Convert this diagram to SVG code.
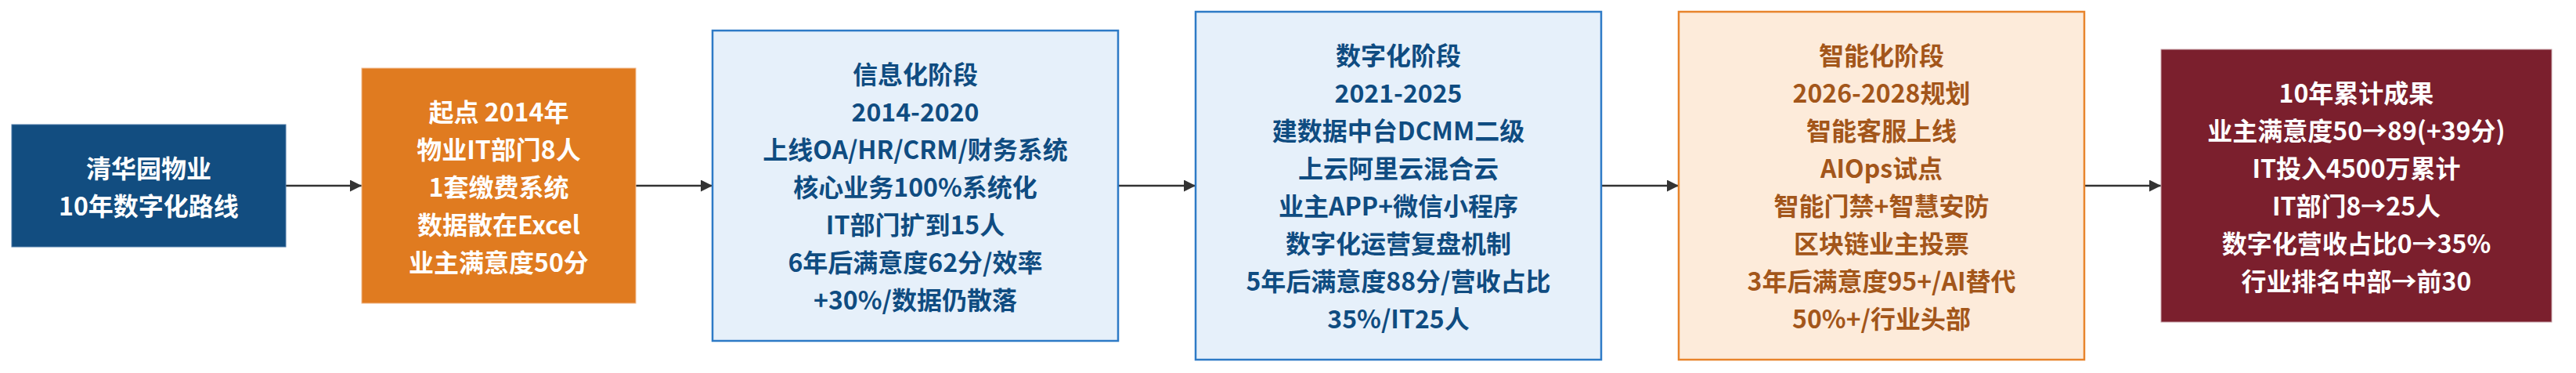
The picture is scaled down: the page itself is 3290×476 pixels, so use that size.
<svg xmlns="http://www.w3.org/2000/svg" width="3290" height="476" viewBox="0 0 3290 476">
<style>
text{font-family:"Noto Sans CJK SC","Noto Sans",sans-serif;font-weight:700;font-size:32px;text-anchor:middle;dominant-baseline:central}
.w{fill:#ffffff}
.b{fill:#0f4c81}
.o{fill:#a3561a}
.edge{stroke:#333333;stroke-width:2.5;fill:none}
</style>
<defs>
<marker id="ah" markerUnits="userSpaceOnUse" markerWidth="16" markerHeight="16" refX="15" refY="7.5" orient="auto">
<path d="M0,0 L15,7.5 L0,15 z" fill="#333333"/>
</marker>
</defs>
<rect width="3290" height="476" fill="#ffffff"/>
<g id="connectors">
<path class="edge" d="M365,237 L462,237" marker-end="url(#ah)"/>
<path class="edge" d="M812,237 L910,237" marker-end="url(#ah)"/>
<path class="edge" d="M1428,237 L1527,237" marker-end="url(#ah)"/>
<path class="edge" d="M2045,237 L2144,237" marker-end="url(#ah)"/>
<path class="edge" d="M2662,237 L2760,237" marker-end="url(#ah)"/>
</g>
<g id="n1">
<rect x="15" y="159" width="350" height="156" fill="#124d80" stroke="#4a78a6" stroke-width="1"/>
<text class="w" x="190" y="213">清华园物业</text>
<text class="w" x="190" y="261">10年数字化路线</text>
</g>
<g id="n2">
<rect x="462" y="87" width="350" height="300" fill="#e07b20" stroke="#f0b88a" stroke-width="1"/>
<text class="w" x="637" y="141">起点 2014年</text>
<text class="w" x="637" y="189">物业IT部门8人</text>
<text class="w" x="637" y="237">1套缴费系统</text>
<text class="w" x="637" y="285">数据散在Excel</text>
<text class="w" x="637" y="333">业主满意度50分</text>
</g>
<g id="n3">
<rect x="910" y="39" width="518" height="396" fill="#e6f0fa" stroke="#2d7ac6" stroke-width="2.5"/>
<text class="b" x="1169" y="93">信息化阶段</text>
<text class="b" x="1169" y="141">2014-2020</text>
<text class="b" x="1169" y="189">上线OA/HR/CRM/财务系统</text>
<text class="b" x="1169" y="237">核心业务100%系统化</text>
<text class="b" x="1169" y="285">IT部门扩到15人</text>
<text class="b" x="1169" y="333">6年后满意度62分/效率</text>
<text class="b" x="1169" y="381">+30%/数据仍散落</text>
</g>
<g id="n4">
<rect x="1527" y="15" width="518" height="444" fill="#e6f0fa" stroke="#2d7ac6" stroke-width="2.5"/>
<text class="b" x="1786" y="69">数字化阶段</text>
<text class="b" x="1786" y="117">2021-2025</text>
<text class="b" x="1786" y="165">建数据中台DCMM二级</text>
<text class="b" x="1786" y="213">上云阿里云混合云</text>
<text class="b" x="1786" y="261">业主APP+微信小程序</text>
<text class="b" x="1786" y="309">数字化运营复盘机制</text>
<text class="b" x="1786" y="357">5年后满意度88分/营收占比</text>
<text class="b" x="1786" y="405">35%/IT25人</text>
</g>
<g id="n5">
<rect x="2144" y="15" width="518" height="444" fill="#fdebda" stroke="#e8842c" stroke-width="2.5"/>
<text class="o" x="2403" y="69">智能化阶段</text>
<text class="o" x="2403" y="117">2026-2028规划</text>
<text class="o" x="2403" y="165">智能客服上线</text>
<text class="o" x="2403" y="213">AIOps试点</text>
<text class="o" x="2403" y="261">智能门禁+智慧安防</text>
<text class="o" x="2403" y="309">区块链业主投票</text>
<text class="o" x="2403" y="357">3年后满意度95+/AI替代</text>
<text class="o" x="2403" y="405">50%+/行业头部</text>
</g>
<g id="n6">
<rect x="2760" y="63" width="499" height="348" fill="#7b1f2d" stroke="#c9a3aa" stroke-width="1"/>
<text class="w" x="3009.5" y="117">10年累计成果</text>
<text class="w" x="3009.5" y="165">业主满意度50→89(+39分)</text>
<text class="w" x="3009.5" y="213">IT投入4500万累计</text>
<text class="w" x="3009.5" y="261">IT部门8→25人</text>
<text class="w" x="3009.5" y="309">数字化营收占比0→35%</text>
<text class="w" x="3009.5" y="357">行业排名中部→前30</text>
</g>
</svg>
